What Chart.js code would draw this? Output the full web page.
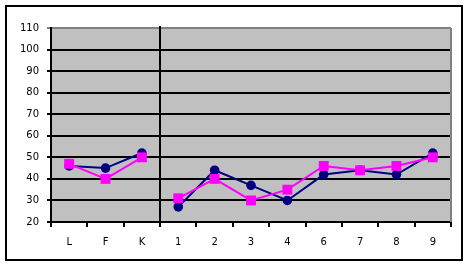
<!DOCTYPE html>
<html><head><meta charset="utf-8">
<script src="https://cdn.jsdelivr.net/npm/chart.js@4/dist/chart.umd.min.js"></script>
<style>html,body{margin:0;padding:0;background:#fff}#wrap{width:467px;height:266px}</style>
</head><body><div id="wrap"><canvas id="c" width="467" height="266"></canvas></div>
<script>
const categories = ['L','F','K','1','2','3','4','6','7','8','9'];
const navySeries = [46, 45, 52, 27, 44, 37, 30, 42, 44, 42, 52];
const magentaSeries = [47, 40, 50, 31, 40, 30, 35, 46, 44, 46, 50];
const yMin = 20, yMax = 110, yStep = 10;
const breakAfterIndex = 2;

const framePlugin = {
  id: 'frame',
  beforeDraw(chart) {
    const ctx = chart.ctx, a = chart.chartArea;
    ctx.save();
    ctx.fillStyle = '#fff';
    ctx.fillRect(0, 0, chart.width, chart.height);
    ctx.strokeStyle = '#000'; ctx.lineWidth = 2;
    ctx.strokeRect(6, 6, 456, 254);
    ctx.fillStyle = '#c0c0c0';
    ctx.fillRect(a.left, a.top, a.right - a.left, a.bottom - a.top);
    ctx.restore();
  },
  afterDatasetsDraw(chart) {
    const ctx = chart.ctx, a = chart.chartArea, x = chart.scales.x;
    const sx = Math.round((x.getPixelForValue(breakAfterIndex) + x.getPixelForValue(breakAfterIndex + 1)) / 2);
    ctx.save();
    ctx.strokeStyle = '#808080'; ctx.lineWidth = 2;
    ctx.beginPath(); ctx.moveTo(a.right, a.top); ctx.lineTo(a.right, a.bottom); ctx.stroke();
    ctx.strokeStyle = '#000'; ctx.lineWidth = 2;
    ctx.beginPath(); ctx.moveTo(sx, a.top - 2); ctx.lineTo(sx, a.bottom + 5); ctx.stroke();
    ctx.restore();
  }
};

const segBreak = {
  borderColor: c => c.p0DataIndex === breakAfterIndex ? 'rgba(0,0,0,0)' : undefined
};

new Chart(document.getElementById('c'), {
  type: 'line',
  data: {
    labels: categories,
    datasets: [
      { data: magentaSeries, borderColor: '#ff00ff', backgroundColor: '#ff00ff', borderWidth: 2,
        pointStyle: 'rect', pointRadius: 7, pointBorderWidth: 0, tension: 0, order: 0, segment: segBreak },
      { data: navySeries, borderColor: '#000080', backgroundColor: '#000080', borderWidth: 2,
        pointStyle: 'circle', pointRadius: 4.8, pointBorderWidth: 0, tension: 0, order: 1, segment: segBreak }
    ]
  },
  options: {
    responsive: false, animation: false,
    layout: { padding: { left: 0, top: 28, right: 16, bottom: 0 } },
    plugins: { legend: { display: false }, tooltip: { enabled: false } },
    scales: {
      x: {
        offset: true,
        grid: { display: true, drawOnChartArea: false, drawTicks: true, tickLength: 5, color: '#000', lineWidth: 2, offset: true },
        border: { display: true, color: '#000', width: 2 },
        ticks: { color: '#000', font: { family: 'DejaVu Sans', size: 10 }, padding: 9, maxRotation: 0, autoSkip: false },
        afterFit: s => { s.height = 44; }
      },
      y: {
        min: yMin, max: yMax,
        grid: { color: c => c.tick && c.tick.value === yMax ? '#808080' : '#000', lineWidth: 2, tickLength: 4 },
        border: { display: true, color: '#000', width: 2 },
        ticks: { stepSize: yStep, color: '#000', font: { family: 'DejaVu Sans', size: 10 }, padding: 8 },
        afterFit: s => { s.width = 51; }
      }
    }
  },
  plugins: [framePlugin]
});
</script></body></html>
